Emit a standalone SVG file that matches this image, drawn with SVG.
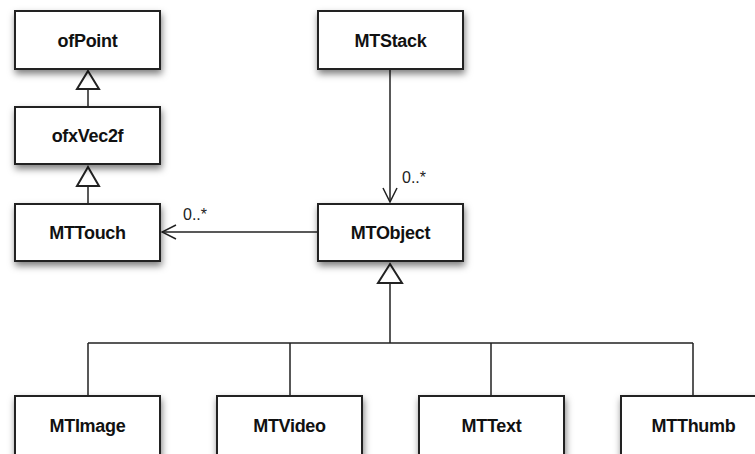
<svg xmlns="http://www.w3.org/2000/svg" width="755" height="454" viewBox="0 0 755 454">
<defs>
<filter id="sh" x="-20%" y="-30%" width="150%" height="170%">
<feDropShadow dx="1" dy="4" stdDeviation="3.5" flood-color="#000" flood-opacity="0.5"/>
</filter>
<marker id="open" viewBox="0 0 16 16" refX="15" refY="8" markerWidth="16" markerHeight="16" orient="auto" markerUnits="userSpaceOnUse">
<path d="M1,1 L15,8 L1,15" fill="none" stroke="#222" stroke-width="1.5"/>
</marker>
</defs>
<style>
.box{fill:#fff;stroke:#222;stroke-width:2;filter:url(#sh)}
.lbl{font-family:"Liberation Sans",Arial,sans-serif;font-weight:bold;font-size:18px;fill:#111;text-anchor:middle;letter-spacing:-0.3px}
.mult{font-family:"Liberation Sans",Arial,sans-serif;font-size:16px;fill:#222}
.ln{fill:none;stroke:#222;stroke-width:1.5}
.gen{fill:#fff;stroke:#222;stroke-width:2}
</style>
<rect width="755" height="454" fill="#fff"/>
<g id="connectors">
<path class="ln" d="M88,107 V89"/>
<path class="gen" d="M88,71 L99,89 L77,89 Z"/>
<path class="ln" d="M88,204 V186"/>
<path class="gen" d="M88,167 L99,186 L77,186 Z"/>
<path class="ln" d="M390,69 V202" marker-end="url(#open)"/>
<text class="mult" x="402" y="183">0..*</text>
<path class="ln" d="M318,232 H162" marker-end="url(#open)"/>
<text class="mult" x="183" y="220">0..*</text>
<path class="ln" d="M390,283 V343 M88,343 H693 M88,343 V396 M290,343 V396 M491,343 V396 M693,343 V396"/>
<path class="gen" d="M390,264 L402,283 L378,283 Z"/>
</g>
<g id="ofPoint"><rect class="box" x="15" y="11" width="145" height="58"/><text class="lbl" x="87.5" y="47">ofPoint</text></g>
<g id="ofxVec2f"><rect class="box" x="15" y="107" width="145" height="57"/><text class="lbl" x="87.5" y="142">ofxVec2f</text></g>
<g id="MTTouch"><rect class="box" x="15" y="204" width="145" height="57"/><text class="lbl" x="87.5" y="239">MTTouch</text></g>
<g id="MTStack"><rect class="box" x="318" y="11" width="145" height="58"/><text class="lbl" x="390.5" y="47">MTStack</text></g>
<g id="MTObject"><rect class="box" x="318" y="204" width="145" height="57"/><text class="lbl" x="390.5" y="239">MTObject</text></g>
<g id="MTImage"><rect class="box" x="15" y="396" width="145" height="60"/><text class="lbl" x="87.5" y="432">MTImage</text></g>
<g id="MTVideo"><rect class="box" x="217" y="396" width="145" height="60"/><text class="lbl" x="289.5" y="432">MTVideo</text></g>
<g id="MTText"><rect class="box" x="419" y="396" width="145" height="60"/><text class="lbl" x="491.5" y="432">MTText</text></g>
<g id="MTThumb"><rect class="box" x="621" y="396" width="145" height="60"/><text class="lbl" x="693.5" y="432">MTThumb</text></g>
</svg>
